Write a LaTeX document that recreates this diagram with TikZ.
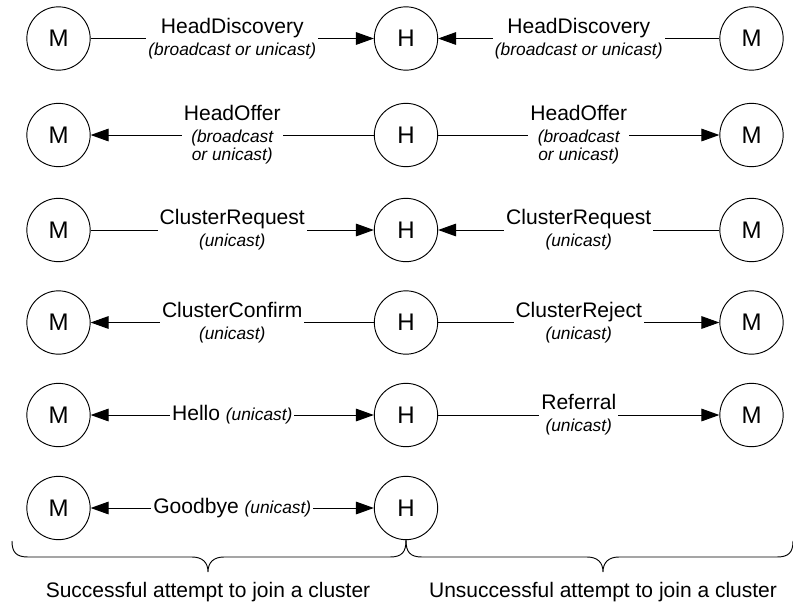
\documentclass[tikz,border=0pt]{standalone}
\usepackage{fontspec}
\setmainfont{Liberation Sans}
\usetikzlibrary{arrows.meta}
\newcommand{\subf}{\fontsize{13}{15}\selectfont\itshape}
\tikzset{
  ent/.style={draw, circle, line width=0.7pt, minimum size=47.5pt, inner sep=0pt, font=\fontsize{18}{20}\selectfont},
  msg/.style={line width=0.75pt},
  onearrow/.style={-{Triangle[length=13.5pt,width=9.5pt]}},
  twoarrow/.style={{Triangle[length=13.5pt,width=9.5pt]}-{Triangle[length=13.5pt,width=9.5pt]}},
  lbl/.style={fill=white, inner xsep=1.5pt, inner ysep=0pt, align=center, font=\fontsize{15.8}{16.5}\selectfont},
  captext/.style={font=\fontsize{15.75}{18}\selectfont}
}
\begin{document}
\begin{tikzpicture}[x=0.75pt,y=-0.75pt]
\useasboundingbox (0,0) rectangle (793,604);
% row y positions
\foreach \i/\y in {1/38.5,2/135,3/230,4/322.5,5/415,6/508}{
  \node[ent] (m\i) at (58.5,\y) {M};
  \node[ent] (h\i) at (406,\y) {H};
}
\foreach \i/\y in {1/38.5,2/135,3/230,4/322.5,5/415}{
  \node[ent] (r\i) at (751.5,\y) {M};
}
% row 1
\draw[msg,onearrow] (m1) -- node[lbl]{HeadDiscovery\\{\subf (broadcast or unicast)}} (h1);
\draw[msg,onearrow] (r1) -- node[lbl]{HeadDiscovery\\{\subf (broadcast or unicast)}} (h1);
% row 2
\draw[msg,onearrow] (h2) -- node[lbl]{HeadOffer\\{\subf (broadcast}\\[-3pt]{\subf or unicast)}} (m2);
\draw[msg,onearrow] (h2) -- node[lbl]{HeadOffer\\{\subf (broadcast}\\[-3pt]{\subf or unicast)}} (r2);
% row 3
\draw[msg,onearrow] (m3) -- node[lbl]{ClusterRequest\\{\subf (unicast)}} (h3);
\draw[msg,onearrow] (r3) -- node[lbl]{ClusterRequest\\{\subf (unicast)}} (h3);
% row 4
\draw[msg,onearrow] (h4) -- node[lbl]{ClusterConfirm\\{\subf (unicast)}} (m4);
\draw[msg,onearrow] (h4) -- node[lbl]{ClusterReject\\{\subf (unicast)}} (r4);
% row 5
\draw[msg,twoarrow] (m5) -- node[lbl]{Hello {\subf (unicast)}} (h5);
\draw[msg,onearrow] (h5) -- node[lbl]{Referral\\{\subf (unicast)}} (r5);
% row 6
\draw[msg,twoarrow] (m6) -- node[lbl]{Goodbye {\subf (unicast)}} (h6);
% braces
\coordinate (bl) at (12,541);
\coordinate (br) at (793,541);
\draw[line width=0.7pt] (bl) .. controls (12,552) and (16,557) .. (28,557) -- (192,557)
  .. controls (202,557) and (208,562) .. (208,572)
  .. controls (208,562) and (214,557) .. (224,557) -- (390,557)
  .. controls (402,557) and (406,552) .. (h6.south);
\draw[line width=0.7pt] (h6.south) .. controls (406,552) and (410,557) .. (422,557) -- (587,557)
  .. controls (597,557) and (603,562) .. (603,572)
  .. controls (603,562) and (609,557) .. (619,557) -- (777,557)
  .. controls (789,557) and (793,552) .. (br);
\node[captext] (s) at (208,592) {Successful attempt to join a cluster};
\node[captext] (u) at (603,592) {Unsuccessful attempt to join a cluster};
\end{tikzpicture}
\end{document}
